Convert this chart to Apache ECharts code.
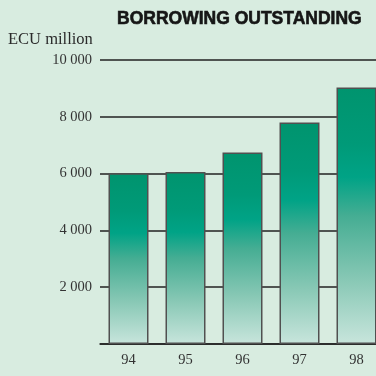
<!DOCTYPE html>
<html>
<head>
<meta charset="utf-8">
<script src="https://cdn.jsdelivr.net/npm/echarts@6/dist/echarts.min.js"></script>
<style>
  html, body { margin: 0; padding: 0; background: #d8ece0; }
  #chart { width: 376px; height: 376px; }
</style>
</head>
<body>
<div id="chart"></div>
<script>
// Borrowing outstanding by year, ECU million
const years = ['94', '95', '96', '97', '98'];
const borrowing = [6010, 6060, 6740, 7800, 9030];
const yTicks = [0, 2000, 4000, 6000, 8000, 10000];

const chart = echarts.init(document.getElementById('chart'), null, { renderer: 'canvas' });

function fmtThousands(v) {
  return String(v).replace(/\B(?=(\d{3})+(?!\d))/g, ' ');
}

const barFill = new echarts.graphic.LinearGradient(0, 0, 0, 1, [
  { offset: 0, color: '#00946e' },
  { offset: 0.22, color: '#009a78' },
  { offset: 0.35, color: '#00a386' },
  { offset: 0.5, color: '#45ad93' },
  { offset: 0.75, color: '#88c8b5' },
  { offset: 1, color: '#c8e5dc' }
]);

chart.setOption({
  backgroundColor: '#d8ece0',
  animation: false,
  title: {
    text: 'BORROWING OUTSTANDING',
    left: 112,
    top: 5,
    textStyle: {
      fontFamily: 'Liberation Sans, Arial, sans-serif',
      fontWeight: 900,
      fontSize: 17.5,
      color: '#161616',
      textBorderColor: '#161616',
      textBorderWidth: 0.6
    }
  },
  graphic: [{
    type: 'text',
    left: 8,
    top: 31,
    style: {
      text: 'ECU million',
      font: '16.5px "Liberation Serif", "Times New Roman", serif',
      fill: '#2a2a2a'
    }
  }],
  grid: {
    left: 100,
    top: 60,
    width: 285,
    height: 284,
    containLabel: false,
    outerBoundsMode: 'none'
  },
  xAxis: {
    type: 'category',
    data: years,
    axisLine: { show: true, lineStyle: { color: '#222', width: 1.5 } },
    axisTick: { show: false },
    axisLabel: {
      color: '#333',
      fontFamily: 'Liberation Serif, serif',
      fontSize: 14.5,
      margin: 9
    }
  },
  yAxis: {
    type: 'value',
    min: yTicks[0],
    max: yTicks[yTicks.length - 1],
    interval: 2000,
    axisLine: { show: false },
    axisTick: { show: false },
    axisLabel: {
      color: '#333',
      fontFamily: 'Liberation Serif, serif',
      fontSize: 14.5,
      margin: 8,
      showMinLabel: false,
      formatter: v => (v === 0 ? '' : fmtThousands(v))
    },
    splitLine: { show: true, lineStyle: { color: '#222', width: 1.5 } }
  },
  series: [{
    type: 'bar',
    data: borrowing,
    barWidth: 40,
    itemStyle: {
      color: barFill,
      borderColor: '#505050',
      borderWidth: 1.5
    }
  }]
});
</script>
</body>
</html>
